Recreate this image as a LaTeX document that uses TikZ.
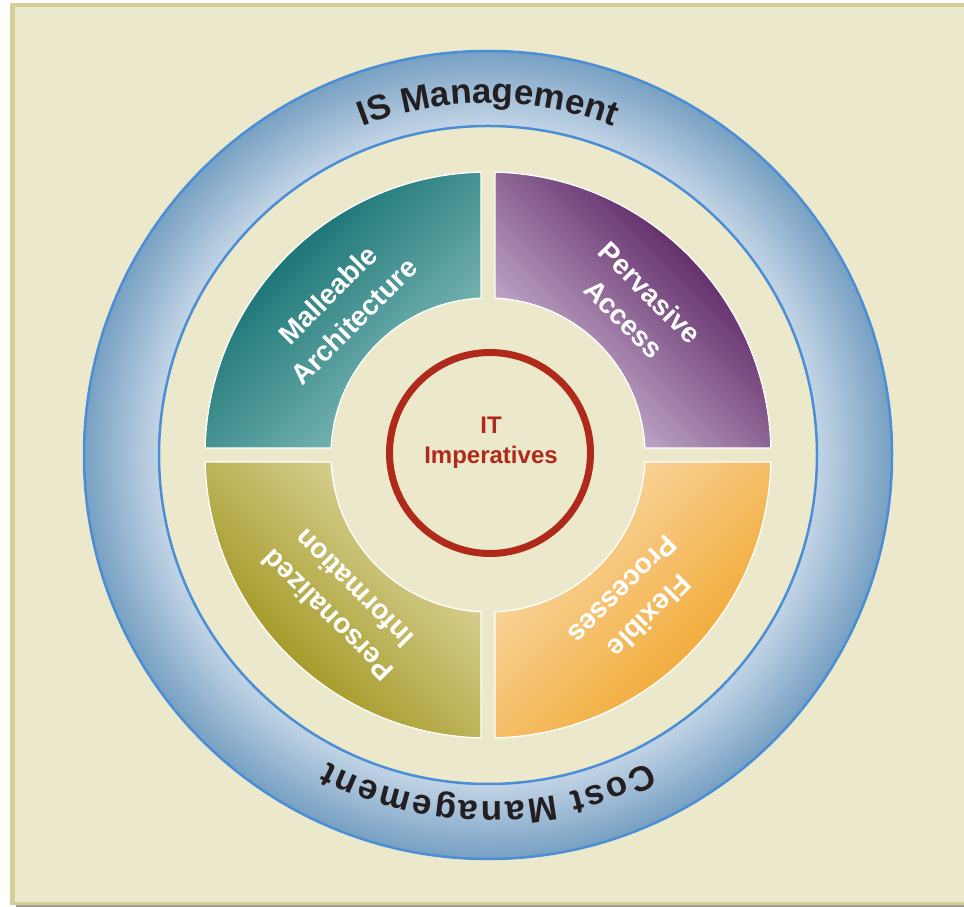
\documentclass[tikz,border=0pt]{standalone}
\usepackage{fontspec}
\setmainfont{Liberation Sans}
\usetikzlibrary{decorations.text}

\definecolor{paper}{HTML}{ECE8CC}
\definecolor{frametan}{HTML}{D6CE98}
\definecolor{shadowgrey}{HTML}{9C9C9C}
\definecolor{ringlight}{HTML}{C2D4E6}
\definecolor{ringdark}{HTML}{78A1C3}
\definecolor{ringline}{HTML}{4B8ED5}
\definecolor{impred}{HTML}{B02A1C}
\definecolor{labelink}{HTML}{231F20}
\definecolor{tealdark}{HTML}{006263}
\definecolor{tealmid}{HTML}{008080}
\definecolor{teallight}{HTML}{8DC2C1}
\definecolor{plumdark}{HTML}{46074E}
\definecolor{plummid}{HTML}{7A4482}
\definecolor{plumlight}{HTML}{D6C6DD}
\definecolor{ambdark}{HTML}{F0A020}
\definecolor{ambmid}{HTML}{F5BE68}
\definecolor{amblight}{HTML}{FADCAE}
\definecolor{olivedark}{HTML}{968A08}
\definecolor{olivemid}{HTML}{BCB056}
\definecolor{olivelight}{HTML}{E2DCAA}

\tikzset{
  segborder/.style={draw=white, line width=1.3pt},
  segtext/.style={text=white, font=\bfseries\fontsize{28}{37}\selectfont,
    align=center, inner sep=0pt},
  coretext/.style={text=impred, font=\bfseries\fontsize{24}{30}\selectfont,
    align=center, inner sep=0pt},
  ringedge/.style={draw=ringline, line width=2.5pt},
}

\begin{document}
\begin{tikzpicture}[x=1pt,y=1pt]
\useasboundingbox (0,0) rectangle (964,907);

% page card with its border and drop shadow
\fill[shadowgrey] (16,0) rectangle (964,2.5);
\fill[frametan] (10,2) rectangle (970,904);
\fill[paper] (14.5,5) rectangle (970,900.3);

\begin{scope}[shift={(488,452)}]
  \coordinate (C) at (0,0);

  % outer management ring: light at the inner edge, darker outwards
  \foreach \k in {0,...,74} {
    \pgfmathsetmacro\mix{100-100*\k/74}
    \draw[ringlight!\mix!ringdark, line width=1.6pt]
      (C) circle[radius={330pt+1pt*\k}];
  }
  \draw[ringedge] (C) circle[radius=404pt];
  \draw[ringedge] (C) circle[radius=329pt];

  \path[decorate, decoration={text along path, text align=center,
      text={|\bfseries\fontsize{35}{35}\selectfont\color{labelink}|IS Management}}]
    (111:352pt) arc[start angle=111, end angle=69, radius=352pt];
  \path[decorate, decoration={text along path, text align=fit to path,
      text={|\bfseries\fontsize{35}{35}\selectfont\color{labelink}|Cost Management}}]
    (-62.5:347pt) arc[start angle=-62.5, end angle=-117.5, radius=347pt];

  % four imperative quadrants
  \shade[top color=tealdark, middle color=tealmid, bottom color=teallight,
         shading angle=45, segborder]
    (91.42:283pt) arc[start angle=91.42, end angle=178.58, radius=283pt]
    -- (177.44:157pt) arc[start angle=177.44, end angle=92.56, radius=157pt] -- cycle;
  \shade[top color=plumdark, middle color=plummid, bottom color=plumlight,
         shading angle=-45, segborder]
    (1.42:283pt) arc[start angle=1.42, end angle=88.58, radius=283pt]
    -- (87.44:157pt) arc[start angle=87.44, end angle=2.56, radius=157pt] -- cycle;
  \shade[top color=ambdark, middle color=ambmid, bottom color=amblight,
         shading angle=-135, segborder]
    (271.42:283pt) arc[start angle=271.42, end angle=358.58, radius=283pt]
    -- (357.44:157pt) arc[start angle=357.44, end angle=272.56, radius=157pt] -- cycle;
  \shade[top color=olivedark, middle color=olivemid, bottom color=olivelight,
         shading angle=135, segborder]
    (181.42:283pt) arc[start angle=181.42, end angle=268.58, radius=283pt]
    -- (267.44:157pt) arc[start angle=267.44, end angle=182.56, radius=157pt] -- cycle;

  \node[segtext, rotate=45]  (malleable) at (135:208pt) {Malleable\\Architecture};
  \node[segtext, rotate=-45] (pervasive) at (45:211pt) {Pervasive\\Access};
  \node[segtext, rotate=225] (flexible) at (-45:210pt) {Flexible\\Processes};
  \node[segtext, rotate=135] (personal) at (-135:208pt) {Personalized\\Information};

  % core
  \node[circle, draw=impred, line width=7pt, minimum size=201pt, inner sep=0pt]
    (core) at (2,2) {};
  \node[coretext] (imperatives) at (3,12) {IT\\Imperatives};
\end{scope}
\end{tikzpicture}
\end{document}
